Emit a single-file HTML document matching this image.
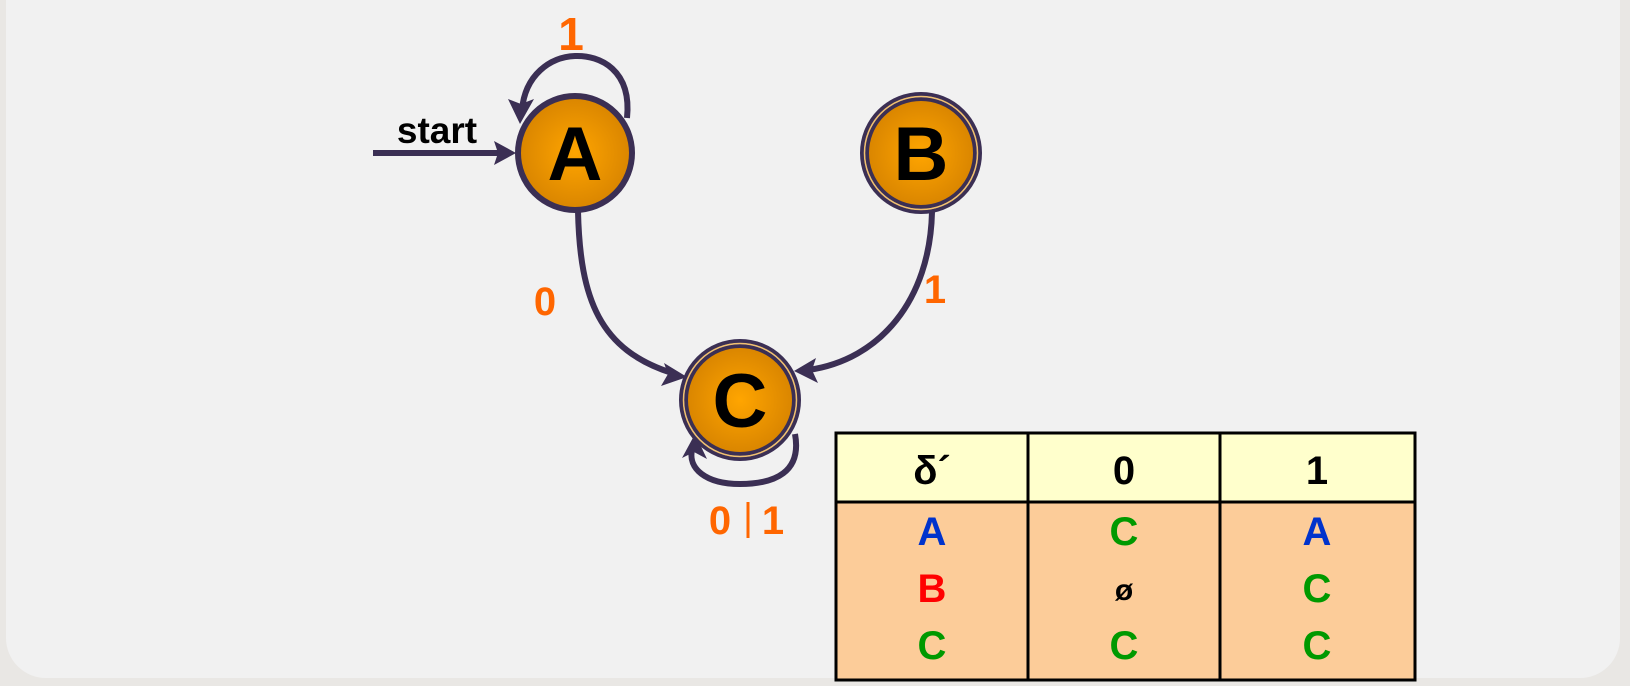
<!DOCTYPE html>
<html><head><meta charset="utf-8"><style>
html,body{margin:0;padding:0;background:#e9e7e4;}
svg{display:block;font-family:"Liberation Sans",sans-serif;font-weight:bold;}
</style></head><body>
<svg width="1630" height="686" viewBox="0 0 1630 686">
<defs>
<radialGradient id="g" cx="50%" cy="50%" r="50%">
<stop offset="0" stop-color="#ffa500"/><stop offset="1" stop-color="#d98500"/>
</radialGradient>
</defs>
<rect x="0" y="0" width="1630" height="686" fill="#e9e7e4"/>
<rect x="6" y="-40" width="1614" height="718" rx="40" fill="#f1f1f1"/>

<!-- start arrow -->
<line x1="373" y1="153" x2="500" y2="153" stroke="#3b2f54" stroke-width="6"/>
<polygon points="516,153 494,141 498,153 494,165" fill="#3b2f54"/>
<text x="437" y="143" font-size="37" text-anchor="middle" fill="#000">start</text>

<!-- A loop -->
<path d="M627,118 C632,70 600,55 575,56 C550,57 525,75 522,110" fill="none" stroke="#3b2f54" stroke-width="6"/>
<polygon points="520,124 508,99 521,104 534,99" fill="#3b2f54"/>
<text x="571" y="50" font-size="46" text-anchor="middle" fill="#ff6600">1</text>

<!-- A to C -->
<path d="M578,211 C580,300 600,350 672,373" fill="none" stroke="#3b2f54" stroke-width="6"/>
<polygon points="687,377 664,363 668,374 661,386" fill="#3b2f54"/>
<text x="545" y="315" font-size="40" text-anchor="middle" fill="#ff6600">0</text>

<!-- B to C -->
<path d="M932,212 C930,300 880,360 808,370" fill="none" stroke="#3b2f54" stroke-width="6"/>
<polygon points="794,371 816,358 812,370 818,383" fill="#3b2f54"/>
<text x="935" y="303" font-size="40" text-anchor="middle" fill="#ff6600">1</text>

<!-- C loop -->
<path d="M795,434 C802,472 775,484 740,484 C705,484 688,468 692,450" fill="none" stroke="#3b2f54" stroke-width="6"/>
<polygon points="695,434 682,458 694,452 707,459" fill="#3b2f54"/>
<text x="720" y="534" font-size="40" text-anchor="middle" fill="#ff6600">0</text>
<line x1="748" y1="502" x2="748" y2="538" stroke="#ff6600" stroke-width="3"/>
<text x="773" y="534" font-size="40" text-anchor="middle" fill="#ff6600">1</text>

<!-- A -->
<circle cx="575" cy="153" r="57" fill="url(#g)" stroke="#3b2f54" stroke-width="6"/>
<text x="575" y="180" font-size="76" text-anchor="middle" fill="#000">A</text>
<!-- B -->
<circle cx="921" cy="153" r="59" fill="#f1f1f1" stroke="#3b2f54" stroke-width="4"/>
<circle cx="921" cy="153" r="54" fill="url(#g)" stroke="#3b2f54" stroke-width="4"/>
<circle cx="921" cy="153" r="56.5" fill="none" stroke="#f0c070" stroke-width="1.5"/>
<text x="921" y="180" font-size="76" text-anchor="middle" fill="#000">B</text>
<!-- C -->
<circle cx="740" cy="400" r="59" fill="#f1f1f1" stroke="#3b2f54" stroke-width="4"/>
<circle cx="740" cy="400" r="54" fill="url(#g)" stroke="#3b2f54" stroke-width="4"/>
<circle cx="740" cy="400" r="56.5" fill="none" stroke="#f0c070" stroke-width="1.5"/>
<text x="740" y="427" font-size="76" text-anchor="middle" fill="#000">C</text>

<!-- table -->
<rect x="836" y="433" width="579" height="69" fill="#ffffcc"/>
<rect x="836" y="502" width="579" height="178" fill="#fccc99"/>
<g stroke="#000" stroke-width="3" fill="none">
<rect x="836" y="433" width="579" height="247"/>
<line x1="836" y1="502" x2="1415" y2="502"/>
<line x1="1028" y1="433" x2="1028" y2="680"/>
<line x1="1220" y1="433" x2="1220" y2="680"/>
</g>
<g font-size="40" text-anchor="middle">
<text x="932" y="484" fill="#000">δ´</text>
<text x="1124" y="484" fill="#000">0</text>
<text x="1317" y="484" fill="#000">1</text>
<text x="932" y="545" fill="#0033cc">A</text>
<text x="1124" y="545" fill="#009900">C</text>
<text x="1317" y="545" fill="#0033cc">A</text>
<text x="932" y="602" fill="#ff0000">B</text>
<text x="1124" y="600" fill="#000" font-size="30">ø</text>
<text x="1317" y="602" fill="#009900">C</text>
<text x="932" y="659" fill="#009900">C</text>
<text x="1124" y="659" fill="#009900">C</text>
<text x="1317" y="659" fill="#009900">C</text>
</g>
</svg>
</body></html>
